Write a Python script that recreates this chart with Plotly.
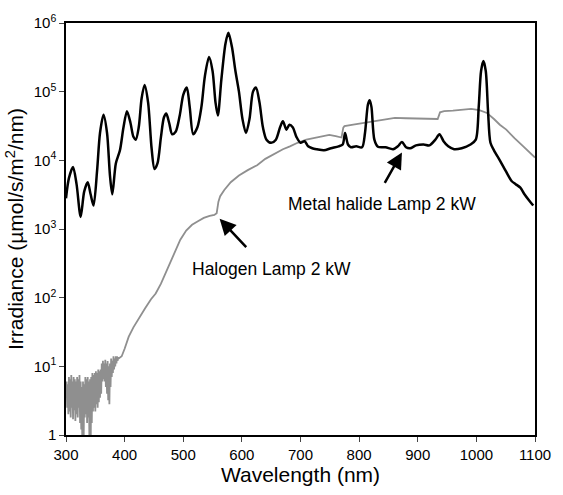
import plotly.graph_objects as go

# Metal halide lamp 2 kW (nm, irradiance)
mh_wl = [300, 305, 312, 318, 325, 331, 337, 342, 347, 353, 358, 364, 370, 375, 379, 385, 392, 398, 404, 410,
         415, 419, 424, 429, 434, 440, 446, 451, 456, 462, 467, 471, 476, 481, 487, 494, 500, 506, 511, 517,
         524, 531, 537, 544, 550, 555, 559, 565, 572, 577, 583, 589, 595, 601, 607, 613, 619, 624, 630, 636,
         642, 650, 658, 665, 670, 676, 681, 687, 693, 700, 707, 713, 720, 728, 740, 752, 765, 772, 776, 781,
         786, 795, 805, 810, 815, 818, 821, 826, 832, 845, 858, 866, 873, 880, 887, 897, 910, 920, 930, 937,
         944, 952, 962, 975, 990, 999, 1004, 1008, 1012, 1016, 1020, 1024, 1030, 1040, 1050, 1060, 1067, 1075,
         1082, 1090, 1097]
mh_val = [2800, 5500, 8000, 4500, 1500, 3500, 4800, 3200, 2200, 7000, 25000, 46000, 25000, 6000, 3200, 9000,
          14000, 30000, 52000, 35000, 22000, 20000, 30000, 80000, 125000, 70000, 15000, 7500, 9000, 22000,
          42000, 48000, 35000, 24000, 26000, 45000, 90000, 115000, 60000, 24000, 30000, 60000, 170000, 320000,
          200000, 70000, 45000, 150000, 500000, 720000, 450000, 200000, 100000, 40000, 25000, 40000, 100000,
          115000, 70000, 30000, 20000, 18000, 20000, 30000, 37000, 28000, 33000, 30000, 22000, 18000, 19000,
          16000, 15000, 14500, 14000, 15000, 16000, 17000, 25000, 17000, 15500, 16000, 15500, 25000, 65000,
          75000, 60000, 20000, 15800, 15500, 14500, 16000, 18500, 15500, 15000, 16500, 17000, 16500, 20000,
          24000, 19000, 16000, 14500, 15000, 17000, 20000, 60000, 200000, 280000, 200000, 50000, 18000, 14000,
          10000, 7000, 5000, 4500, 4000, 3200, 2600, 2200]

# Halogen lamp 2 kW: noisy UV part, 300-390 nm in 1 nm steps
hal_uv_wl = list(range(300, 391))
hal_uv_val = [3.5, 6, 2.5, 5.5, 2, 7, 2.2, 6.5, 1.8, 7.5, 2.5, 6, 1.7, 7, 2.3, 6.5, 1.6, 6, 2, 7,
              1.8, 6.5, 2.5, 7.5, 1.5, 6, 1.2, 5, 0.5, 6, 0.6, 5.5, 1.8, 7, 2, 6.5, 1.5, 7, 1.8, 6,
              0.7, 6.5, 0.5, 7, 1.5, 8, 2.2, 7.5, 2.5, 8, 2.2, 8.5, 2.8, 8, 2.5, 9, 3, 8.5, 3.5, 9,
              4, 11, 6, 12, 6.5, 11, 6, 12.5, 5, 11, 4, 12, 3.2, 10, 2.8, 11, 5, 13, 7, 12,
              8, 14, 9, 13, 10, 14, 11, 14, 12, 13.5, 13]
# Halogen lamp 2 kW: smooth part
hal_vis_wl = [395, 400, 407, 415, 425, 435, 445, 453, 462, 470, 478, 486, 495, 505,
              515, 525, 535, 545, 553, 557, 560, 563, 570, 581, 595, 610, 626, 640, 655, 670, 682, 695, 710, 727,
              749, 760, 770, 773, 775, 790, 810, 830, 850, 861, 880, 900, 920, 934, 938, 945, 960, 975, 991, 1005,
              1018, 1030, 1040, 1051, 1065, 1080, 1097, 1100]
hal_vis_val = [14, 18, 27, 37, 52, 70, 95, 115, 160, 230, 330, 480, 700, 950,
               1150, 1300, 1450, 1550, 1600, 1700, 2500, 3000, 3700, 4800, 6000, 7200, 8500, 10500, 12500, 14500,
               16000, 18000, 20000, 21500, 23500, 22500, 21500, 30000, 31500, 33000, 35000, 38000, 40000, 41500,
               41000, 41000, 40000, 40000, 50000, 52000, 53000, 55000, 56000, 54000,
               49000, 40000, 33000, 28000, 21000, 16000, 11700, 11000]

y_tickvals = [1, 10, 100, 1000, 10000, 100000, 1000000]
y_ticktext = ["1", "10<sup>1</sup>", "10<sup>2</sup>", "10<sup>3</sup>", "10<sup>4</sup>", "10<sup>5</sup>", "10<sup>6</sup>"]
x_tickvals = [300, 400, 500, 600, 700, 800, 900, 1000, 1100]

FONT = "Liberation Sans, Arial, sans-serif"

fig = go.Figure()
fig.add_trace(go.Scatter(x=hal_uv_wl + hal_vis_wl, y=hal_uv_val + hal_vis_val, mode="lines",
                         name="Halogen Lamp 2 kW", line=dict(color="#8f8f8f", width=1.8)))
fig.add_trace(go.Scatter(x=mh_wl, y=mh_val, mode="lines", name="Metal halide Lamp 2 kW",
                         line=dict(color="black", width=2.5, shape="spline", smoothing=0.8)))

fig.update_layout(
    width=563, height=495,
    margin=dict(l=66, r=21, t=19, b=59),
    paper_bgcolor="white", plot_bgcolor="white",
    showlegend=False,
    font=dict(family=FONT, color="black", size=15),
    xaxis=dict(range=[300, 1100], tickvals=x_tickvals, ticks="outside", ticklen=5,
               showline=True, linecolor="black", linewidth=1.5, mirror=True, showgrid=False, zeroline=False,
               tickfont=dict(size=15),
               title=dict(text="Wavelength (nm)", font=dict(size=21), standoff=6)),
    yaxis=dict(type="log", range=[0, 6], tickvals=y_tickvals, ticktext=y_ticktext, ticks="outside", ticklen=5,
               showline=True, linecolor="black", linewidth=1.5, mirror=True, showgrid=False, zeroline=False,
               tickfont=dict(size=15),
               title=dict(text="Irradiance (µmol/s/m<sup>2</sup>/nm)", font=dict(size=21), standoff=4)),
)

fig.add_annotation(x=873, y=4.115, xref="x", yref="y", ax=-18, ay=32, showarrow=True,
                   arrowhead=2, arrowsize=1.3, arrowwidth=2.5, arrowcolor="black", text="")
fig.add_annotation(x=562, y=3.15, xref="x", yref="y", ax=28, ay=30, showarrow=True,
                   arrowhead=2, arrowsize=1.3, arrowwidth=2.5, arrowcolor="black", text="")
fig.add_annotation(x=839.5, y=3.367, xref="x", yref="y", showarrow=False,
                   text="Metal halide Lamp 2 kW", font=dict(size=17.5))
fig.add_annotation(x=651, y=2.417, xref="x", yref="y", showarrow=False,
                   text="Halogen Lamp 2 kW", font=dict(size=17.5))

fig.write_html("out.html", config={"displayModeBar": False},
               post_script="document.body.style.margin='0';document.body.style.overflow='hidden';")
